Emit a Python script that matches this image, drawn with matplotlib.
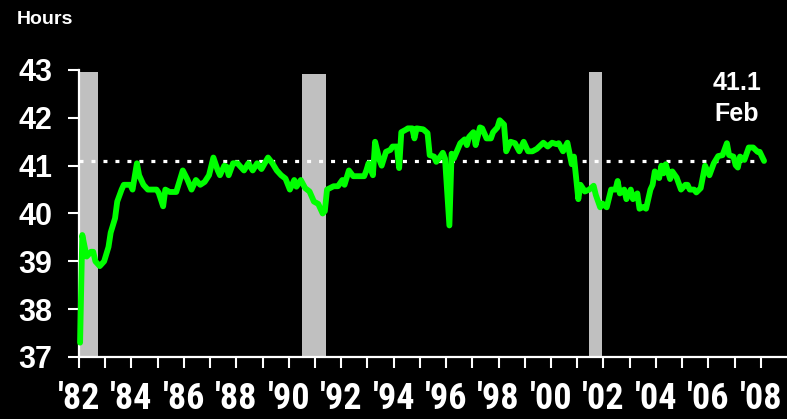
import matplotlib
matplotlib.use("Agg")
import matplotlib.pyplot as plt
import numpy as np

# Average weekly hours, manufacturing: months counted from Jan 1982
months = [0, 1, 3, 5, 6, 7, 9, 11, 13, 14, 16, 17, 19, 20, 21, 23, 24, 26, 27, 29,
          31, 35, 36, 38, 39, 41, 44, 45, 47, 49, 51, 53, 55, 57, 59, 61, 63, 64, 66, 67,
          68, 70, 72, 75, 77, 79, 81, 83, 86, 88, 90, 92, 94, 96, 98, 99, 101, 103, 105, 107,
          109, 111, 112, 113, 116, 118, 120, 121, 123, 125, 127, 130, 131, 132, 134, 135, 137, 138, 140, 142,
          143, 145, 146, 147, 149, 150, 152, 153, 154, 157, 159, 160, 162, 163, 165, 166, 167, 169, 170, 171,
          174, 176, 177, 178, 180, 181, 183, 184, 186, 188, 189, 191, 192, 194, 195, 197, 199, 201, 203, 205,
          207, 209, 212, 214, 216, 218, 219, 221, 223, 224, 225, 226, 228, 229, 231, 233, 235, 236, 238, 239,
          241, 243, 245, 246, 247, 249, 250, 252, 253, 255, 256, 258, 259, 261, 262, 263, 265, 266, 267, 268,
          270, 271, 273, 275, 277, 278, 279, 281, 282, 284, 285, 286, 288, 290, 292, 294, 296, 297, 299, 300,
          301, 302, 304, 306, 308, 310, 311, 313]
hours = [37.3, 39.55, 39.1, 39.2, 39.2, 39.0, 38.9, 39.0, 39.3, 39.6, 39.9, 40.25, 40.5, 40.6, 40.6, 40.6, 40.5, 41.05, 40.8, 40.6,
         40.5, 40.5, 40.43, 40.15, 40.5, 40.45, 40.45, 40.6, 40.9, 40.72, 40.5, 40.7, 40.6, 40.66, 40.8, 41.17, 40.9, 40.8, 41.0, 40.98,
         40.8, 41.05, 41.05, 40.9, 41.05, 40.9, 41.05, 40.93, 41.17, 41.05, 40.9, 40.8, 40.73, 40.5, 40.7, 40.56, 40.7, 40.53, 40.46, 40.25,
         40.2, 40.0, 40.05, 40.5, 40.57, 40.57, 40.7, 40.6, 40.9, 40.78, 40.78, 40.78, 40.9, 41.05, 40.8, 41.5, 41.12, 41.0, 41.29, 41.33,
         41.4, 41.4, 40.95, 41.7, 41.75, 41.78, 41.78, 41.57, 41.78, 41.76, 41.68, 41.22, 41.19, 41.08, 41.2, 41.27, 41.15, 39.75, 41.25, 41.15,
         41.47, 41.55, 41.43, 41.6, 41.7, 41.43, 41.8, 41.78, 41.57, 41.57, 41.7, 41.8, 41.95, 41.86, 41.3, 41.5, 41.47, 41.3, 41.5, 41.3,
         41.3, 41.35, 41.48, 41.4, 41.48, 41.45, 41.47, 41.3, 41.48, 41.26, 41.03, 41.19, 40.3, 40.6, 40.46, 40.5, 40.58, 40.39, 40.13, 40.21,
         40.13, 40.5, 40.5, 40.68, 40.42, 40.5, 40.3, 40.5, 40.3, 40.42, 40.1, 40.14, 40.1, 40.5, 40.6, 40.88, 40.74, 41.0, 40.84, 41.03,
         40.72, 40.88, 40.75, 40.5, 40.6, 40.6, 40.5, 40.5, 40.44, 40.53, 40.77, 41.0, 40.8, 41.05, 41.2, 41.22, 41.47, 41.22, 41.19, 41.01,
         40.96, 41.19, 41.12, 41.38, 41.38, 41.29, 41.29, 41.1]

# Recession shading (decimal years) and bar heights
recession_start = [1982.0, 1990.51, 2001.44]
recession_end = [1982.71, 1991.42, 2001.96]
recession_top = [42.95, 42.92, 42.95]

latest_value = 41.1
latest_label = "Feb"

year_ticks = list(range(1982, 2009))
year_labels = [f"'{y % 100:02d}" if y % 2 == 0 else "" for y in year_ticks]
hour_ticks = [37, 38, 39, 40, 41, 42, 43]

fig = plt.figure(figsize=(7.87, 4.19), dpi=100, facecolor="black")
ax = fig.add_axes([79 / 787, 1 - 357 / 419, 1 - 79 / 787, (357 - 70) / 419])
ax.set_facecolor("black")

# each monthly value sits at the middle of its month
x = 1982 + (np.asarray(months) + 0.5) / 12.0

for s, e, t in zip(recession_start, recession_end, recession_top):
    ax.fill_between([s, e], 37, t, color="#C0C0C0", linewidth=0, zorder=1)

ax.plot([1982.0, 2008.17], [latest_value, latest_value], color="white", lw=2.3,
        linestyle=(0, (1.25, 2.5)), dash_capstyle="butt", zorder=2)

ax.plot(x, hours, color="#00FF00", lw=4.2, solid_joinstyle="round",
        solid_capstyle="round", zorder=5, clip_on=False)

ax.set_xlim(1982, 2009.0)
ax.set_ylim(37, 43)

for side in ("top", "right"):
    ax.spines[side].set_visible(False)
for side in ("left", "bottom"):
    ax.spines[side].set_color("white")
    ax.spines[side].set_linewidth(1.6)
    ax.spines[side].set_zorder(4)

ax.set_yticks(hour_ticks)
ax.set_yticklabels([str(h) for h in hour_ticks])
ax.set_xticks(year_ticks)
ax.set_xticklabels(year_labels)

ax.tick_params(axis="y", direction="out", length=8, width=1.5, color="white",
               labelcolor="white", pad=11)
ax.tick_params(axis="x", direction="out", length=8, width=1.5, color="white",
               labelcolor="white", pad=9)

for lab in ax.get_yticklabels():
    lab.set_fontfamily(["Liberation Sans", "DejaVu Sans"])
    lab.set_fontweight("bold")
    lab.set_fontsize(22)
for lab in ax.get_xticklabels():
    lab.set_fontfamily(["Roboto Condensed", "DejaVu Sans"])
    lab.set_fontweight("bold")
    lab.set_fontsize(26)

fig.text(17 / 787, 1 - 24 / 419, "Hours", color="white", fontsize=14, fontweight="bold",
         family=["Liberation Sans", "DejaVu Sans"], ha="left", va="baseline")
fig.text(737 / 787, 1 - 90 / 419, f"{latest_value:.1f}", color="white", fontsize=18,
         fontweight="bold", family=["Liberation Sans", "DejaVu Sans"], ha="center", va="baseline")
fig.text(737 / 787, 1 - 121 / 419, latest_label, color="white", fontsize=18,
         fontweight="bold", family=["Liberation Sans", "DejaVu Sans"], ha="center", va="baseline")

fig.savefig("out.png", dpi=100, facecolor="black")
